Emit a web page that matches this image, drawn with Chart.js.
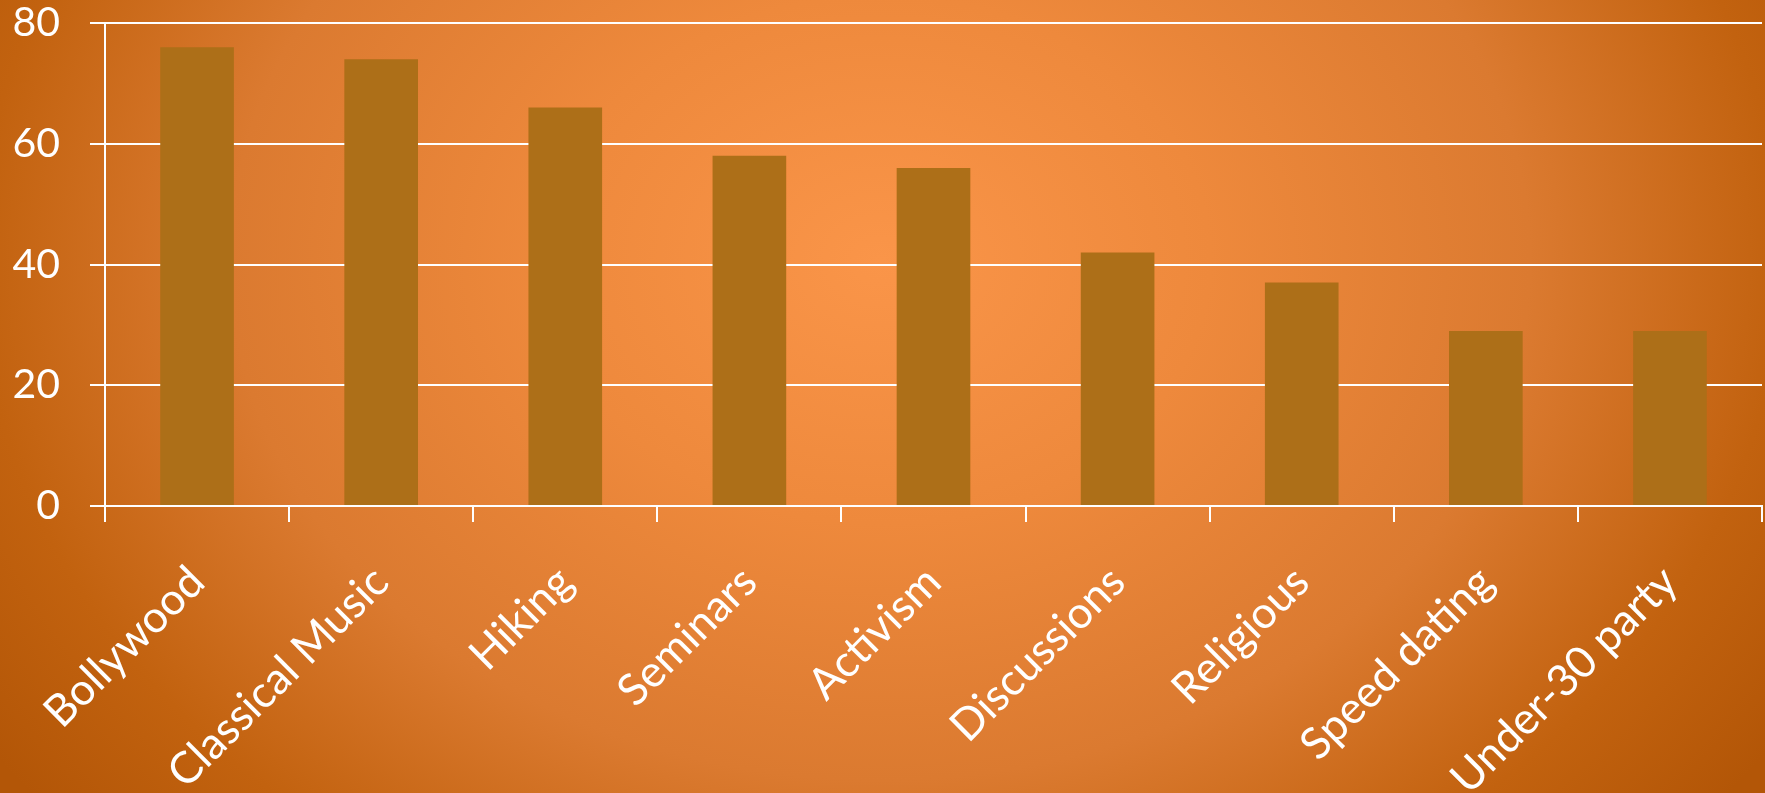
<!DOCTYPE html>
<html>
<head>
<meta charset="utf-8">
<script src="https://cdn.jsdelivr.net/npm/chart.js@4"></script>
<style>
  html, body { margin: 0; padding: 0; }
  body {
    width: 1765px; height: 793px; overflow: hidden;
    background: radial-gradient(ellipse 1000px 800px at 880px 260px,
      #FA9549 0%, #EE893C 33%, #DB7A30 65%, #C2620F 90%, #B35607 108%);
  }
  #wrap { position: relative; width: 1765px; height: 793px; }
</style>
</head>
<body>
<div id="wrap"><canvas id="chart"></canvas></div>
<script>
// ===== Data =====
const categories = ["Bollywood", "Classical Music", "Hiking", "Seminars", "Activism",
  "Discussions", "Religious", "Speed dating", "Under-30 party"];
const counts = [76, 74, 66, 58, 56, 42, 37, 29, 29];
const yTicks = [0, 20, 40, 60, 80];

const white = "#FFFFFF";
const family = "Lato, 'Open Sans', sans-serif";

new Chart(document.getElementById("chart"), {
  type: "bar",
  data: {
    labels: categories,
    datasets: [{
      data: counts,
      backgroundColor: "#AD6F18",
      barPercentage: 0.4,
      categoryPercentage: 1.0
    }]
  },
  options: {
    responsive: true,
    maintainAspectRatio: false,
    animation: false,
    layout: { padding: { top: 23, right: 3 } },
    plugins: { legend: { display: false }, tooltip: { enabled: false } },
    scales: {
      x: {
        grid: { drawOnChartArea: false, drawTicks: true, tickLength: 16, color: white, lineWidth: 2 },
        border: { color: white, width: 2 },
        ticks: { color: white, font: { family, size: 44 }, minRotation: 45, maxRotation: 45, padding: 34 },
        afterFit: (s) => { s.height = 287; s.paddingLeft = 0; s.paddingRight = 0; }
      },
      y: {
        min: 0, max: 80,
        afterBuildTicks: (s) => { s.ticks = yTicks.map(v => ({ value: v })); },
        grid: { color: white, lineWidth: 2, tickLength: 15 },
        border: { color: white, width: 2 },
        ticks: { color: white, font: { family, size: 41 }, padding: 30 },
        afterFit: (s) => { s.width = 105; s.paddingTop = 0; s.paddingBottom = 0; }
      }
    }
  }
});
</script>
</body>
</html>
